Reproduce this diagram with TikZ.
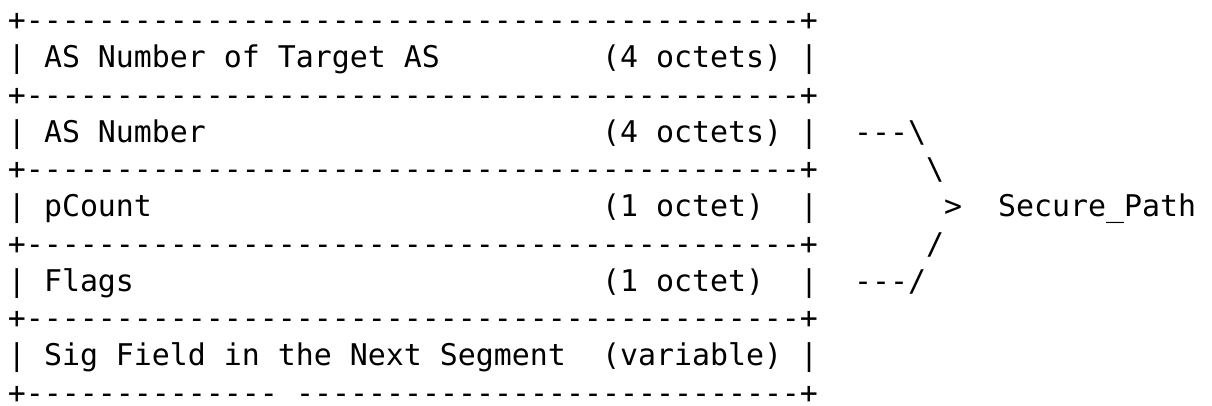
\documentclass[tikz,border=0pt]{standalone}
\usepackage{fontspec}
\setmonofont{DejaVu Sans Mono}
\begin{document}
\begin{tikzpicture}[x=1pt,y=-1pt,
  txt/.style={anchor=base west,inner sep=0pt,outer sep=0pt,font=\ttfamily\fontsize{29.9}{37}\selectfont,text=black}]
\useasboundingbox[fill=white] (0,0) rectangle (1212,405);
\newcommand{\seg}[4]{\node[txt] (#1) at ({8+18*#2},{30.5+37.25*#3}) {#4};}
\newcommand{\sepline}[2]{\seg{#1}{0}{#2}{+-------------------------------------------+}}
% line 0
\sepline{top}{0}
% line 1
\seg{l1a}{0}{1}{|}
\seg{l1b}{2}{1}{AS Number of Target AS}
\seg{l1c}{33}{1}{(4 octets)}
\seg{l1d}{44}{1}{|}
\sepline{s2}{2}
% line 3
\seg{l3a}{0}{3}{|}
\seg{l3b}{2}{3}{AS Number}
\seg{l3c}{33}{3}{(4 octets)}
\seg{l3d}{44}{3}{|}
\seg{l3e}{47}{3}{---\textbackslash}
\sepline{s4}{4}
\seg{l4e}{51}{4}{\textbackslash}
% line 5
\seg{l5a}{0}{5}{|}
\seg{l5b}{2}{5}{pCount}
\seg{l5c}{33}{5}{(1 octet)}
\seg{l5d}{44}{5}{|}
\seg{l5e}{52}{5}{>}
\seg{l5f}{55}{5}{Secure\_Path}
\sepline{s6}{6}
\seg{l6e}{51}{6}{/}
% line 7
\seg{l7a}{0}{7}{|}
\seg{l7b}{2}{7}{Flags}
\seg{l7c}{33}{7}{(1 octet)}
\seg{l7d}{44}{7}{|}
\seg{l7e}{47}{7}{---/}
\sepline{s8}{8}
% line 9
\seg{l9a}{0}{9}{|}
\seg{l9b}{2}{9}{Sig Field in the Next Segment}
\seg{l9c}{33}{9}{(variable)}
\seg{l9d}{44}{9}{|}
% line 10
\node[txt,text depth=0pt] (b1) at ({8+18*0},{30.5+37.25*10}) {+--------------};
\node[txt,text depth=0pt] (b2) at ({8+18*16},{30.5+37.25*10}) {----------------------------+};
\end{tikzpicture}
\end{document}
